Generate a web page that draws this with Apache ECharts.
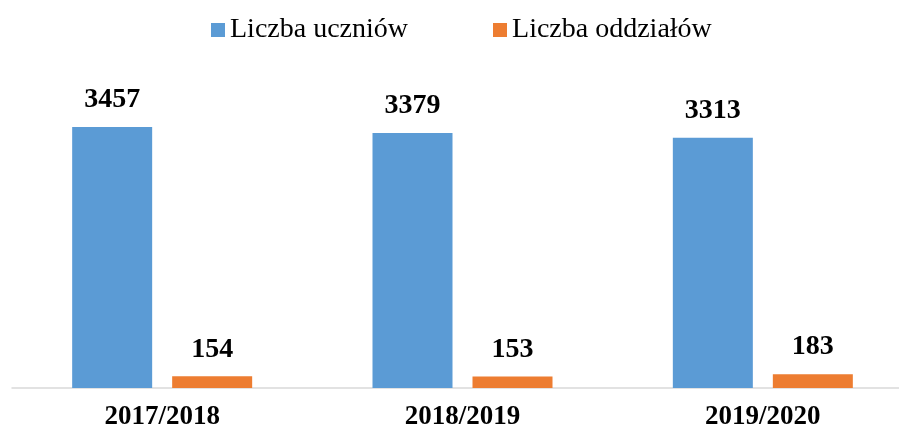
<!DOCTYPE html>
<html>
<head>
<meta charset="utf-8">
<script src="https://cdn.jsdelivr.net/npm/echarts@6/dist/echarts.min.js"></script>
<style>
  html, body { margin: 0; padding: 0; background: #fff; }
  #chart { width: 899px; height: 430px; }
</style>
</head>
<body>
<div id="chart"></div>
<script>
const categories = ['2017/2018', '2018/2019', '2019/2020']
const uczniowie = [3457, 3379, 3313]
const oddzialy = [154, 153, 183]

const font = '"Liberation Serif", "Times New Roman", serif'
const chart = echarts.init(document.getElementById('chart'))

const labelStyle = {
  show: true,
  position: 'top',
  distance: 13,
  fontFamily: font,
  fontSize: 28,
  fontWeight: 'bold',
  color: '#000'
}

chart.setOption({
  animation: false,
  textStyle: { fontFamily: font },
  legend: {
    top: 11,
    left: 206,
    itemWidth: 14,
    itemHeight: 14,
    itemGap: 85,
    icon: 'rect',
    textStyle: { fontFamily: font, fontSize: 28, color: '#000', padding: [0, 0, 0, 0] }
  },
  grid: { left: 12, right: -14, top: 86, bottom: 42, containLabel: false, outerBoundsMode: 'none' },
  xAxis: {
    type: 'category',
    data: categories,
    axisLine: { lineStyle: { color: '#d9d9d9', width: 1.5 } },
    axisTick: { show: false },
    axisLabel: { fontFamily: font, fontSize: 27, fontWeight: 'bold', color: '#000', margin: 16 }
  },
  yAxis: {
    type: 'value',
    min: 0,
    max: 4000,
    show: false,
    splitLine: { show: false }
  },
  series: [
    {
      name: 'Liczba uczniów',
      type: 'bar',
      data: uczniowie,
      barWidth: 80,
      barGap: '25%',
      itemStyle: { color: '#5b9bd5' },
      label: labelStyle
    },
    {
      name: 'Liczba oddziałów',
      type: 'bar',
      data: oddzialy,
      barWidth: 80,
      itemStyle: { color: '#ed7d31' },
      label: labelStyle
    }
  ]
})
</script>
</body>
</html>
